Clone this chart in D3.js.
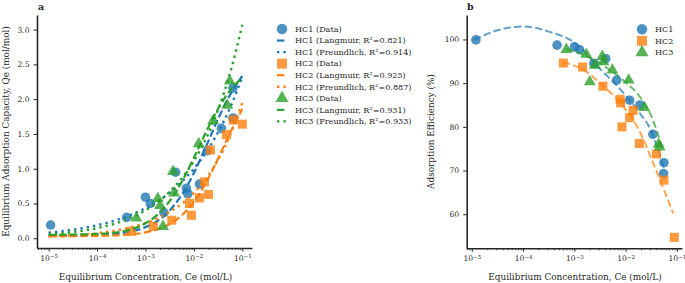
<!DOCTYPE html>
<html>
<head>
<meta charset="utf-8">
<script src="https://cdn.jsdelivr.net/npm/d3@7"></script>
<style>
body { margin: 0; background: #fff; }
text { font-family: "DejaVu Serif", serif; fill: #262626; }
</style>
</head>
<body>
<svg id="chart" width="685" height="283"></svg>
<script>
// measured points (panel a: Qe, panel b: efficiency)
var hc1CeA = [1.1e-5, 4.1e-4, 1.0e-3, 1.26e-3, 2.4e-3, 4.2e-3, 7.0e-3, 7.5e-3, 1.3e-2, 1.9e-2, 3.7e-2, 6.4e-2, 6.4e-2];
var hc1Qe  = [0.19, 0.30, 0.59, 0.50, 0.37, 0.95, 0.72, 0.64, 0.78, 1.26, 1.58, 2.16, 1.73];
var hc2CeA = [5.1e-4, 1.45e-3, 3.5e-3, 8.1e-3, 8.9e-3, 1.3e-2, 1.65e-2, 2.0e-2, 2.2e-2, 4.7e-2, 6.5e-2, 1.0e-1];
var hc2Qe  = [0.10, 0.17, 0.26, 0.50, 0.33, 0.58, 0.81, 0.63, 1.27, 1.49, 1.70, 1.64];
var hc3CeA = [6.5e-4, 1.8e-3, 2.0e-3, 2.3e-3, 3.7e-3, 3.9e-3, 1.26e-2, 2.5e-2, 4.9e-2, 5.5e-2];
var hc3Qe  = [0.29, 0.57, 0.47, 0.17, 0.96, 0.65, 1.36, 1.69, 1.91, 2.26];

var hc1CeB = [1.2e-5, 4.6e-4, 1.0e-3, 1.26e-3, 2.4e-3, 4.1e-3, 6.7e-3, 1.2e-2, 1.9e-2, 3.4e-2, 5.5e-2, 5.6e-2];
var hc1Eff = [99.9, 98.7, 98.3, 97.7, 94.5, 95.6, 90.7, 86.1, 85.0, 78.3, 69.3, 71.8];
var hc2CeB = [6.1e-4, 1.45e-3, 3.6e-3, 7.8e-3, 8.0e-3, 8.5e-3, 1.2e-2, 1.4e-2, 1.85e-2, 4.0e-2, 5.6e-2, 8.9e-2];
var hc2Eff = [94.6, 93.7, 89.3, 86.3, 85.5, 80.0, 82.1, 83.8, 76.2, 73.8, 67.8, 54.7];
var hc3CeB = [7.0e-4, 1.7e-3, 2.0e-3, 2.5e-3, 3.5e-3, 3.7e-3, 5.5e-3, 1.15e-2, 2.3e-2, 4.4e-2, 4.6e-2];
var hc3Eff = [97.7, 96.6, 90.3, 94.1, 96.1, 94.9, 93.0, 90.7, 84.4, 76.0, 75.4];

// fitted curves
var fitCe = [1e-5, 3.16e-5, 1e-4, 3.16e-4, 1e-3, 1.78e-3, 3.16e-3, 5.62e-3, 1e-2, 1.78e-2, 3.16e-2, 5.62e-2, 1e-1];
var hc1Lang = [0.040, 0.042, 0.050, 0.075, 0.160, 0.250, 0.400, 0.625, 0.940, 1.32, 1.716, 2.066, 2.333];
var hc1Freu = [0.080, 0.122, 0.187, 0.284, 0.432, 0.533, 0.658, 0.812, 1.00, 1.234, 1.524, 1.88, 2.32];
var hc2Lang = [0.030, 0.031, 0.035, 0.046, 0.085, 0.130, 0.205, 0.330, 0.525, 0.80, 1.148, 1.519, 1.857];
var hc2Freu = [0.025, 0.042, 0.073, 0.127, 0.219, 0.288, 0.378, 0.497, 0.653, 0.859, 1.129, 1.484, 1.95];
var hc3Lang = [0.050, 0.053, 0.062, 0.095, 0.215, 0.340, 0.535, 0.812, 1.158, 1.527, 1.863, 2.127, 2.311];
var hc3Freu = [0.053, 0.088, 0.146, 0.242, 0.403, 0.519, 0.669, 0.863, 1.112, 1.433, 1.848, 2.382, 3.07];

var hc1TrendCe = [1.1e-5, 3.16e-5, 1e-4, 3.16e-4, 1e-3, 3.16e-3, 1e-2, 1.78e-2, 3.16e-2, 4.22e-2, 5.6e-2];
var hc1Trend   = [99.9, 102.1, 103.0, 101.8, 99.3, 93.3, 87.2, 83.5, 79.0, 75.0, 70.5];
var hc2TrendCe = [6.0e-4, 1e-3, 1.78e-3, 3.16e-3, 5.62e-3, 1e-2, 1.78e-2, 3.16e-2, 5.62e-2, 8.5e-2];
var hc2Trend   = [94.8, 94.0, 92.5, 90.0, 87.3, 84.0, 79.5, 72.8, 65.5, 60.2];
var hc3TrendCe = [7.0e-4, 1e-3, 3.16e-3, 1e-2, 1.78e-2, 3.16e-2, 5.1e-2];
var hc3Trend   = [97.8, 97.3, 94.5, 90.2, 87.3, 82.5, 75.5];

var seriesNames = ["HC1", "HC2", "HC3"];
var r2Lang = ["0.821", "0.925", "0.931"];
var r2Freu = ["0.914", "0.887", "0.933"];
var colors = ["#1f77b4", "#ff7f0e", "#2ca02c"];
var shapes = [d3.symbolCircle, d3.symbolSquare, d3.symbolTriangle];
var shapeSize = [72, 82, 62];

var svg = d3.select("#chart");

var xA = d3.scaleLog().domain([Math.pow(10, -5.24), Math.pow(10, -0.80)]).range([37, 252]);
var yA = d3.scaleLinear().domain([-0.14, 3.21]).range([248, 15]);
var xB = d3.scaleLog().domain([Math.pow(10, -5.10), Math.pow(10, -0.90)]).range([466.7, 682]);
var yB = d3.scaleLinear().domain([52.2, 105.6]).range([248.3, 15]);

function zip(xs, ys) { return xs.map(function (x, i) { return [x, ys[i]]; }); }

function drawAxes(x, y, yTicks, yFmt) {
    var majors = [1e-5, 1e-4, 1e-3, 1e-2, 1e-1];
    var minors = [];
    for (var e = -6; e <= -1; e++) {
        for (var m = 2; m <= 9; m++) {
            var v = m * Math.pow(10, e);
            if (v >= x.domain()[0] && v <= x.domain()[1]) minors.push(v);
        }
    }
    var y0 = y.range()[0];
    svg.append("g")
        .attr("transform", "translate(0," + y0 + ")")
        .call(d3.axisBottom(x).tickValues(minors).tickSize(2).tickFormat(""))
        .call(function (g) { g.select(".domain").remove(); g.selectAll("line").attr("stroke", "#262626").attr("stroke-width", 0.8); });
    var gx = svg.append("g")
        .attr("transform", "translate(0," + y0 + ")")
        .call(d3.axisBottom(x).tickValues(majors).tickSize(3.5).tickPadding(4).tickSizeOuter(0));
    gx.select(".domain").attr("stroke", "#262626").attr("stroke-width", 1.6);
    gx.selectAll("line").attr("stroke", "#262626").attr("stroke-width", 1);
    gx.selectAll(".tick text").text(null).attr("font-size", 7.6)
        .each(function (d) {
            var t = d3.select(this);
            t.append("tspan").text("10");
            t.append("tspan").attr("dy", "-0.45em").attr("font-size", "0.72em")
                .text("\u2212" + Math.abs(Math.round(Math.log10(d))));
        });
    var gy = svg.append("g")
        .attr("transform", "translate(" + x.range()[0] + ",0)")
        .call(d3.axisLeft(y).tickValues(yTicks).tickFormat(yFmt).tickSize(3.5).tickPadding(4).tickSizeOuter(0));
    gy.select(".domain").attr("stroke", "#262626").attr("stroke-width", 1.6);
    gy.selectAll("line").attr("stroke", "#262626").attr("stroke-width", 1);
    gy.selectAll("text").attr("font-size", 7.6);
}

function drawMarkers(x, y, pts, k) {
    svg.append("g").selectAll("path")
        .data(pts)
        .join("path")
        .attr("d", d3.symbol().type(shapes[k]).size(shapeSize[k]))
        .attr("transform", function (d) { return "translate(" + x(d[0]) + "," + y(d[1]) + ")"; })
        .attr("fill", colors[k])
        .attr("fill-opacity", 0.8);
}

// ---- panel a ----
drawAxes(xA, yA, [0, 0.5, 1, 1.5, 2, 2.5, 3], d3.format(".1f"));

var lineA = d3.line().x(function (d) { return xA(d[0]); }).y(function (d) { return yA(d[1]); }).curve(d3.curveMonotoneX);
var langs = [hc1Lang, hc2Lang, hc3Lang];
var freus = [hc1Freu, hc2Freu, hc3Freu];
var dataA = [zip(hc1CeA, hc1Qe), zip(hc2CeA, hc2Qe), zip(hc3CeA, hc3Qe)];

[0, 1, 2].forEach(function (k) {
    drawMarkers(xA, yA, dataA[k], k);
    svg.append("path").attr("d", lineA(zip(fitCe, langs[k])))
        .attr("fill", "none").attr("stroke", colors[k]).attr("stroke-width", 2.2)
        .attr("stroke-dasharray", "7.4,3.2");
    svg.append("path").attr("d", lineA(zip(fitCe, freus[k])))
        .attr("fill", "none").attr("stroke", colors[k]).attr("stroke-width", 2.4)
        .attr("stroke-dasharray", "2.4,4");
});

svg.append("text").attr("x", 145.5).attr("y", 280).attr("text-anchor", "middle")
    .attr("font-size", 8.9).text("Equilibrium Concentration, Ce (mol/L)");
svg.append("text").attr("transform", "translate(9,131.5) rotate(-90)").attr("text-anchor", "middle")
    .attr("font-size", 8.9).text("Equilibrium Adsorption Capacity, Qe (mol/mol)");
svg.append("text").attr("x", 38).attr("y", 10).attr("font-size", 9.5).attr("font-weight", "bold").text("a");

// legend a
var legA = svg.append("g").attr("transform", "translate(282,29)");
[0, 1, 2].forEach(function (k) {
    var rows = [
        { kind: "m", label: seriesNames[k] + " (Data)" },
        { kind: "dash", label: seriesNames[k] + " (Langmuir, R\u00b2=" + r2Lang[k] + ")" },
        { kind: "dot", label: seriesNames[k] + " (Freundlich, R\u00b2=" + r2Freu[k] + ")" }
    ];
    rows.forEach(function (r, j) {
        var yy = (k * 3 + j) * 11.55;
        if (r.kind === "m") {
            legA.append("path").attr("d", d3.symbol().type(shapes[k]).size(shapeSize[k] * 1.2)())
                .attr("transform", "translate(0," + yy + ")")
                .attr("fill", colors[k]).attr("fill-opacity", 0.8);
        } else {
            legA.append("line").attr("x1", -5).attr("x2", 5).attr("y1", yy).attr("y2", yy)
                .attr("stroke", colors[k]).attr("stroke-width", r.kind === "dash" ? 2.2 : 2.4)
                .attr("stroke-dasharray", r.kind === "dash" ? "7.4,3.2" : "2.4,4");
        }
        legA.append("text").attr("x", 13).attr("y", yy).attr("dy", "0.35em")
            .attr("font-size", 8.1).text(r.label);
    });
});

// ---- panel b ----
drawAxes(xB, yB, [60, 70, 80, 90, 100], d3.format("d"));

var lineB = d3.line().x(function (d) { return xB(d[0]); }).y(function (d) { return yB(d[1]); }).curve(d3.curveMonotoneX);
var trends = [zip(hc1TrendCe, hc1Trend), zip(hc2TrendCe, hc2Trend), zip(hc3TrendCe, hc3Trend)];
var dataB = [zip(hc1CeB, hc1Eff), zip(hc2CeB, hc2Eff), zip(hc3CeB, hc3Eff)];

[0, 1, 2].forEach(function (k) {
    drawMarkers(xB, yB, dataB[k], k);
    svg.append("path").attr("d", lineB(trends[k]))
        .attr("fill", "none").attr("stroke", colors[k]).attr("stroke-opacity", 0.7)
        .attr("stroke-width", 2).attr("stroke-dasharray", "7.4,3.2");
});

svg.append("text").attr("x", 575).attr("y", 280).attr("text-anchor", "middle")
    .attr("font-size", 8.9).text("Equilibrium Concentration, Ce (mol/L)");
svg.append("text").attr("transform", "translate(434,131.5) rotate(-90)").attr("text-anchor", "middle")
    .attr("font-size", 8.9).text("Adsorption Efficiency (%)");
svg.append("text").attr("x", 467).attr("y", 10).attr("font-size", 9.5).attr("font-weight", "bold").text("b");

var legB = svg.append("g").attr("transform", "translate(642,29.3)");
[0, 1, 2].forEach(function (k) {
    var yy = k * 11.55;
    legB.append("path").attr("d", d3.symbol().type(shapes[k]).size(shapeSize[k] * 1.2)())
        .attr("transform", "translate(0," + yy + ")")
        .attr("fill", colors[k]).attr("fill-opacity", 0.8);
    legB.append("text").attr("x", 13).attr("y", yy).attr("dy", "0.35em")
        .attr("font-size", 8.1).text(seriesNames[k]);
});
</script>
</body>
</html>
